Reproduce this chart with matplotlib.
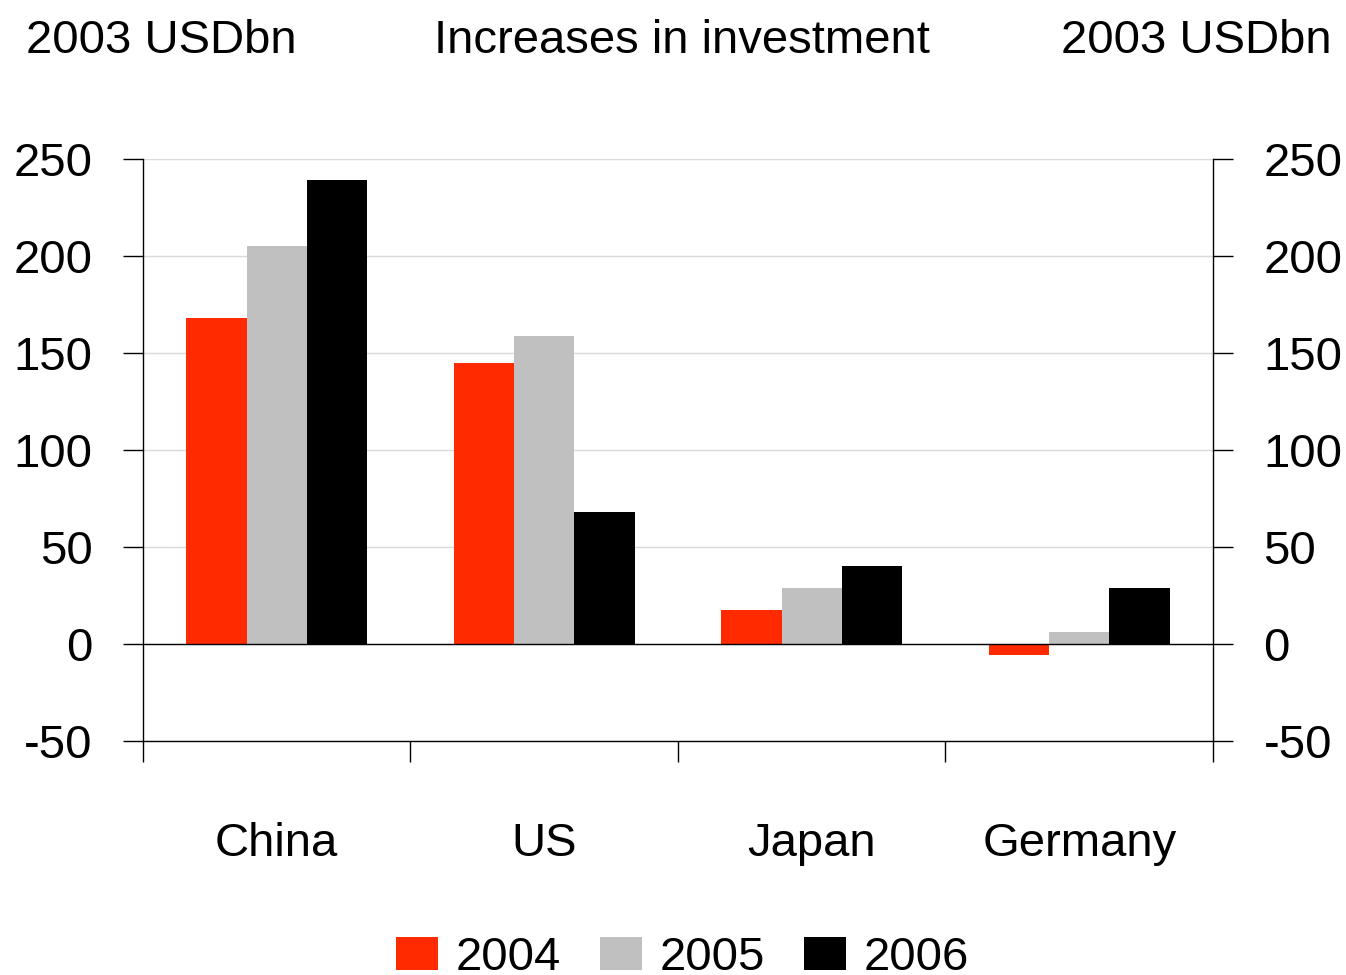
import matplotlib
matplotlib.use('Agg')
from matplotlib import pyplot as plt
from matplotlib import font_manager
import numpy as np

countries = ['China', 'US', 'Japan', 'Germany']
years = ['2004', '2005', '2006']
inv_2004 = [168, 145, 17.5, -5.5]
inv_2005 = [205, 159, 29, 6]
inv_2006 = [239, 68, 40, 29]
colors = ['#FF2A00', '#C0C0C0', '#000000']

# narrow sans if one is installed, otherwise an Arial-like face at a smaller size
names = {f.name for f in font_manager.fontManager.ttflist}
if 'Liberation Sans Narrow' in names:
    family, fs = 'Liberation Sans Narrow', 44
else:
    family, fs = 'Liberation Sans', 34
plt.rcParams['font.family'] = [family, 'DejaVu Sans']
plt.rcParams['axes.unicode_minus'] = False

fig = plt.figure(figsize=(13.46, 9.75), dpi=100)
ax = fig.add_axes([0.1062, 0.24, 0.795, 0.5969])

x = np.arange(len(countries))
w = 0.225
for i, (vals, c, lab) in enumerate(zip([inv_2004, inv_2005, inv_2006], colors, years)):
    ax.bar(x + (i - 1) * w, vals, width=w, color=c, label=lab, zorder=3)

ax.set_xlim(-0.5, len(countries) - 0.5)
ax.set_ylim(-50, 250)
ax.set_yticks(np.arange(-50, 251, 50))
ax.yaxis.grid(True, color='#DADADA', linewidth=1, zorder=0)
ax.axhline(0, color='black', linewidth=1.0, zorder=4)

ax.set_xticks(x)
ax.set_xticklabels(countries, fontsize=fs)
ax.set_xticks(np.arange(-0.5, len(countries), 1), minor=True)
ax.tick_params(axis='x', which='major', length=0, pad=58)
ax.tick_params(axis='x', which='minor', length=15, width=1.0, direction='out')
ax.tick_params(axis='y', length=14.4, width=1.0, direction='out', labelsize=fs,
               left=True, right=True, labelleft=True, labelright=True, pad=22)
for lbl in ax.get_yticklabels() + ax.get_yticklabels(which='major'):
    lbl.set_va('center_baseline')

ax.spines['top'].set_visible(False)
for s in ['left', 'right', 'bottom']:
    ax.spines[s].set_linewidth(1.0)

fig.text(0.019, 0.958, '2003 USDbn', fontsize=fs, ha='left', va='center')
fig.text(0.507, 0.958, 'Increases in investment', fontsize=fs, ha='center', va='center')
fig.text(0.989, 0.958, '2003 USDbn', fontsize=fs, ha='right', va='center')

fig.legend(loc='center', bbox_to_anchor=(0.507, 0.017), ncol=3, frameon=False,
           fontsize=fs, handlelength=0.9, handleheight=0.7, columnspacing=0.83,
           handletextpad=0.36, borderpad=0)

fig.savefig('out.png', dpi=100)
